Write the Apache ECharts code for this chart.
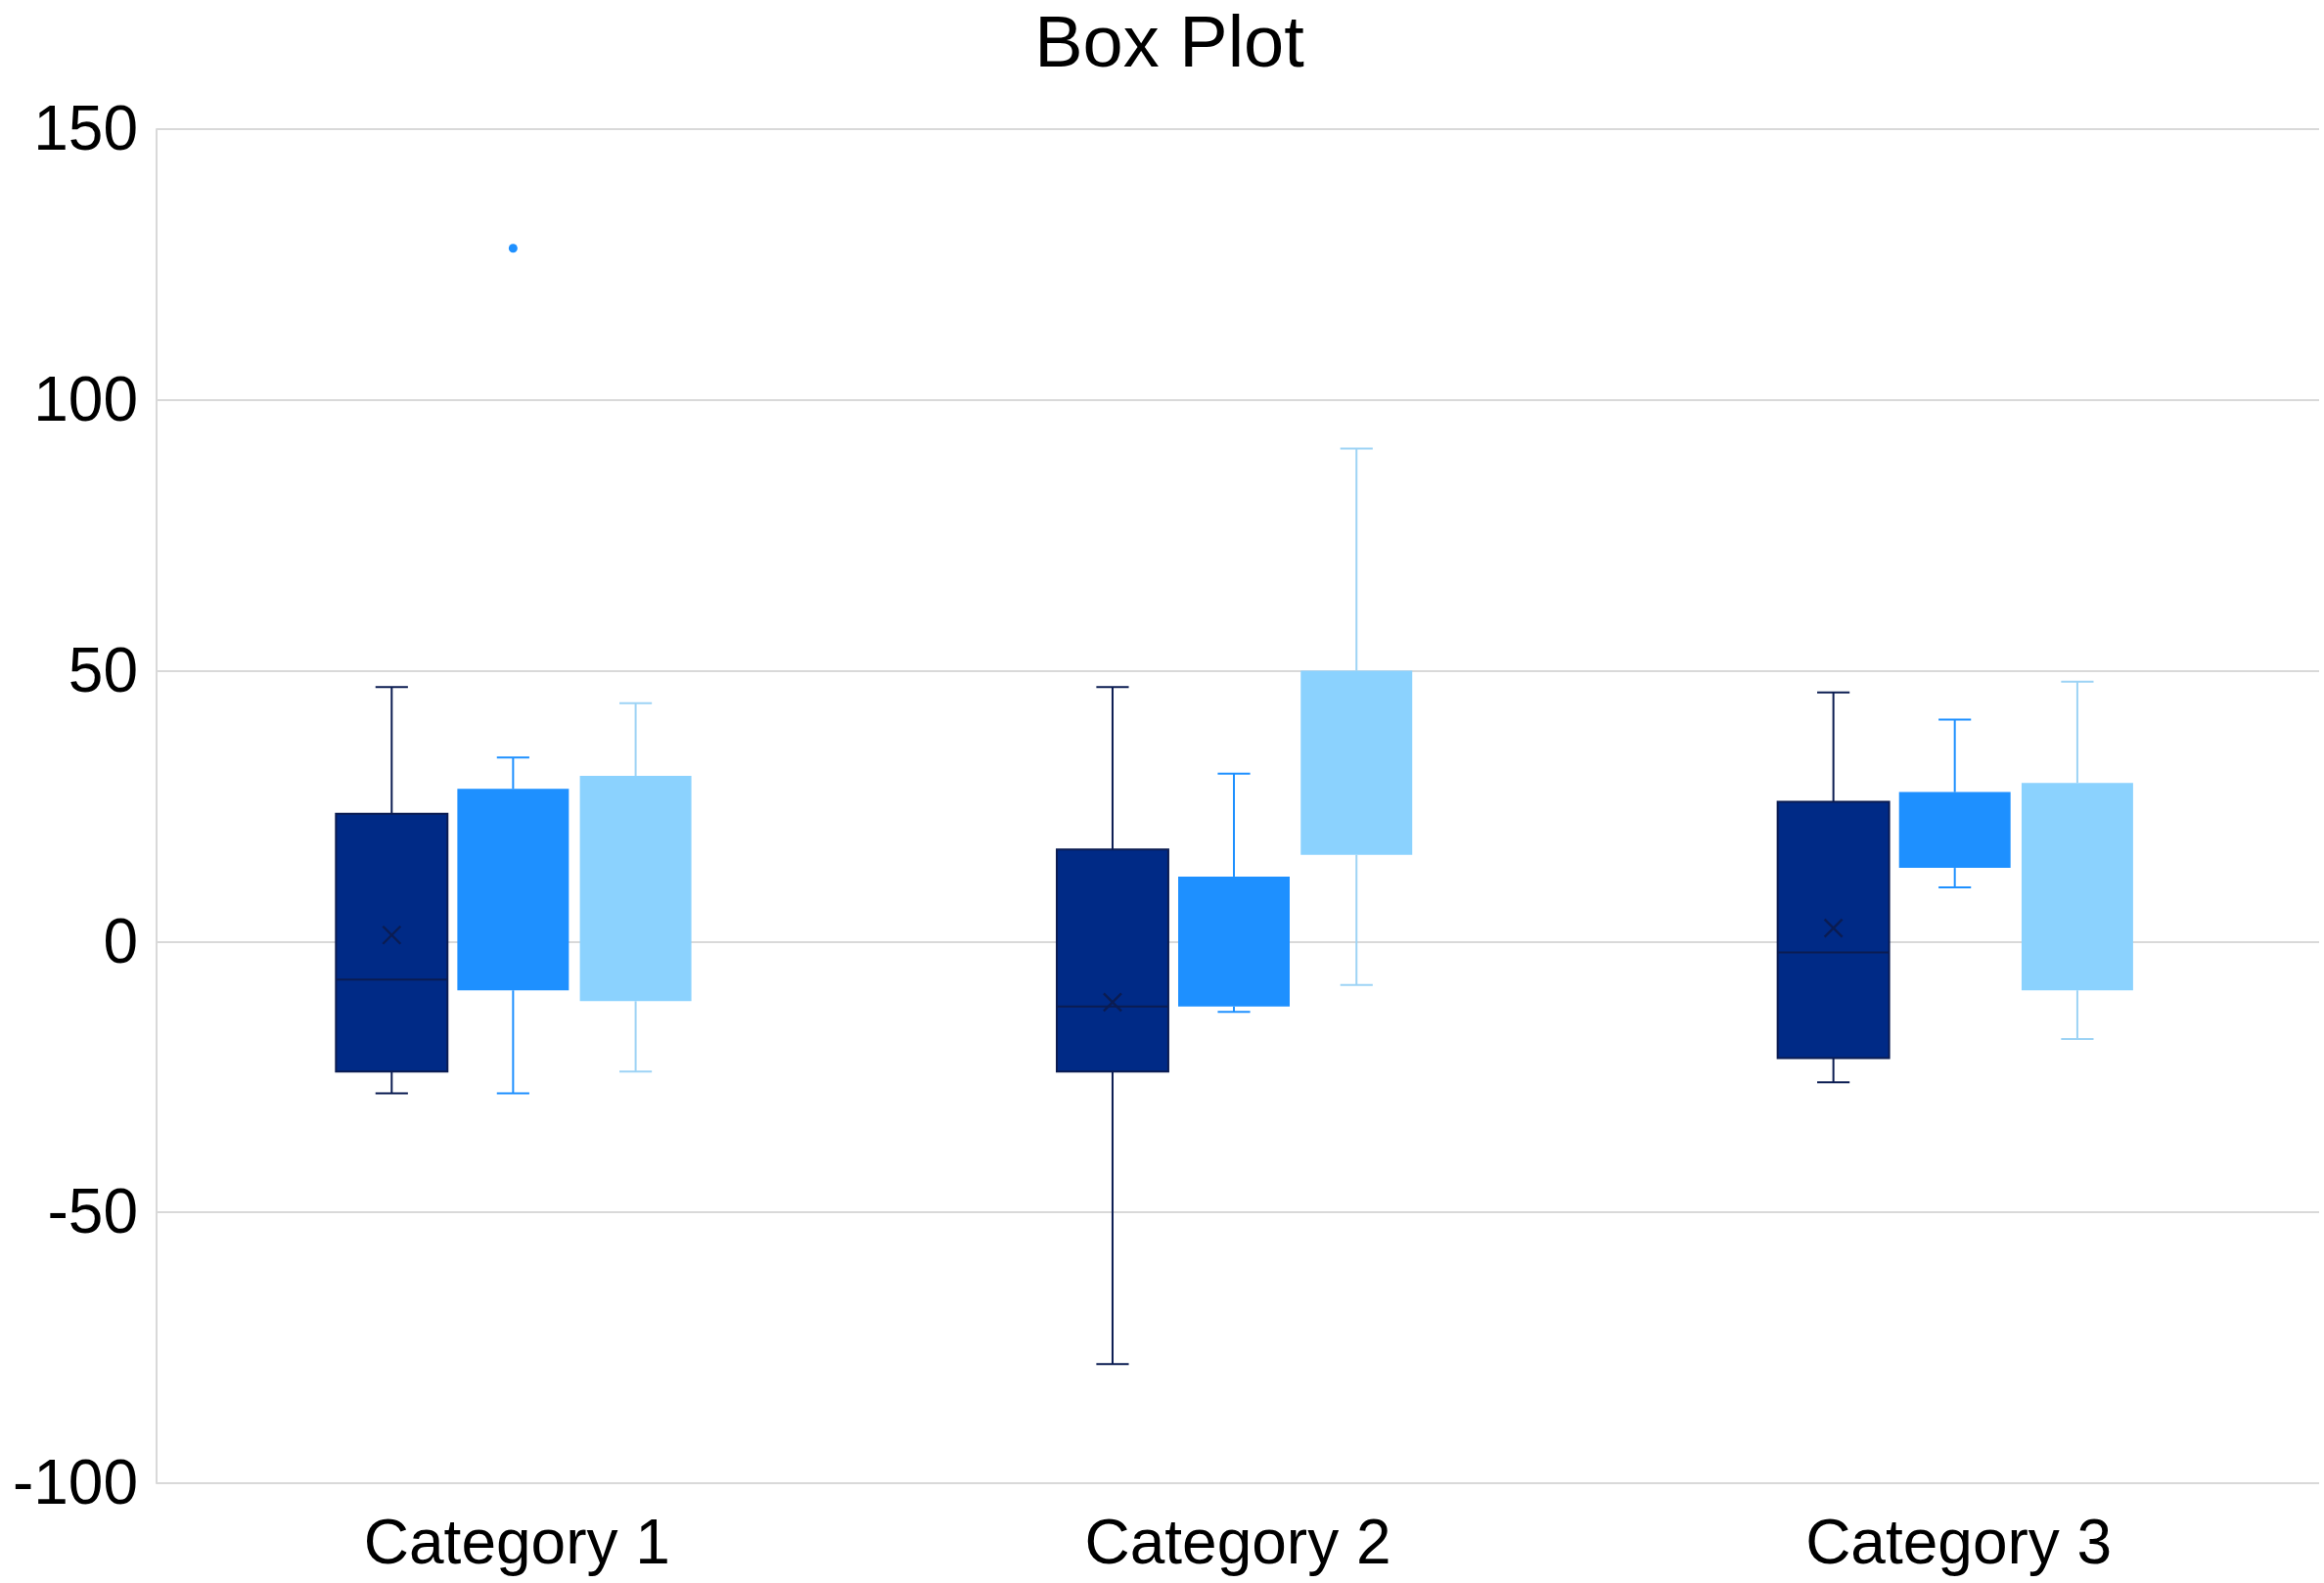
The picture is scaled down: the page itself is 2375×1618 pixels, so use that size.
<!DOCTYPE html>
<html><head><meta charset="utf-8">
<script src="https://cdn.jsdelivr.net/npm/echarts@6/dist/echarts.min.js"></script>
<style>html,body{margin:0;padding:0;background:#fff}#c{width:2375px;height:1618px}</style>
</head><body><div id="c"></div>
<script>
// ---------- data ----------
const categories = ['Category 1', 'Category 2', 'Category 3'];
const seriesNames = ['Series 1', 'Series 2', 'Series 3'];
const yMin = -100, yMax = 150, yInterval = 50;

// [min, Q1, median, Q3, max] per category
const series1Box = [[-28, -24, -7, 23.6, 47], [-78, -24, -12, 17, 47], [-26, -21.5, -2, 25.8, 46]];
const series1Mean = [1.2, -11.2, 2.5];
const series2Box = [[-28, -9, null, 28.2, 34], [-13, -12, null, 12, 31], [10, 13.6, null, 27.6, 41]];
const series2Mean = [null, null, null];
const series3Box = [[-24, -11, null, 30.6, 44], [-8, 16, null, 50, 91], [-18, -9, null, 29.3, 48]];
const series3Mean = [null, null, null];
// outliers: [seriesIndex, categoryIndex, value]
const outliers = [[1, 0, 128]];

// ---------- styles ----------
const FONT = 'Liberation Sans, Arial, Helvetica, sans-serif';
const styles = [
  { fill: '#002A86', border: '#0B1C52', whisker: '#0B1C52', mark: '#0B1C52' },
  { fill: '#1E90FF', border: null, whisker: '#1E90FF', mark: null },
  { fill: '#8BD2FE', border: null, whisker: '#9DD3F5', mark: null }
];
const offsets = [-0.1738, -0.0054, 0.1646];
const boxFrac = 0.1547, capFrac = 0.045;

function toData(box, mean) {
  return box.map((b, i) => [i, b[0], b[1], b[2] == null ? NaN : b[2], b[3], b[4], mean[i] == null ? NaN : mean[i]]);
}
const boxData = [toData(series1Box, series1Mean), toData(series2Box, series2Mean), toData(series3Box, series3Mean)];

function makeRender(k) {
  const st = styles[k];
  return function (params, api) {
    const cat = api.value(0);
    const band = api.size([1, 0])[0];
    const cx = api.coord([cat, 0])[0] + offsets[k] * band;
    const w = boxFrac * band, cw = capFrac * band;
    const Y = v => api.coord([cat, v])[1];
    const lo = Y(api.value(1)), q1 = Y(api.value(2)), med = api.value(3),
          q3 = Y(api.value(4)), hi = Y(api.value(5)), mean = api.value(6);
    const ls = { stroke: st.whisker, lineWidth: 2 };
    const ch = [
      { type: 'line', shape: { x1: cx, y1: hi, x2: cx, y2: q3 }, style: ls },
      { type: 'line', shape: { x1: cx, y1: q1, x2: cx, y2: lo }, style: ls },
      { type: 'line', shape: { x1: cx - cw / 2, y1: hi, x2: cx + cw / 2, y2: hi }, style: ls },
      { type: 'line', shape: { x1: cx - cw / 2, y1: lo, x2: cx + cw / 2, y2: lo }, style: ls },
      { type: 'rect', shape: { x: cx - w / 2, y: q3, width: w, height: q1 - q3 },
        style: st.border ? { fill: st.fill, stroke: st.border, lineWidth: 2 } : { fill: st.fill, stroke: null } }
    ];
    if (st.mark && !isNaN(med)) {
      const my = Y(med);
      ch.push({ type: 'line', shape: { x1: cx - w / 2, y1: my, x2: cx + w / 2, y2: my }, style: { stroke: st.mark, lineWidth: 2 } });
    }
    if (st.mark && !isNaN(mean)) {
      const ey = Y(mean), h = 9;
      ch.push({ type: 'line', shape: { x1: cx - h, y1: ey - h, x2: cx + h, y2: ey + h }, style: { stroke: st.mark, lineWidth: 2.4 } });
      ch.push({ type: 'line', shape: { x1: cx - h, y1: ey + h, x2: cx + h, y2: ey - h }, style: { stroke: st.mark, lineWidth: 2.4 } });
    }
    return { type: 'group', children: ch };
  };
}

function renderOutlier(params, api) {
  const k = api.value(0), cat = api.value(1), v = api.value(2);
  const band = api.size([1, 0])[0];
  const p = api.coord([cat, v]);
  return { type: 'circle', shape: { cx: p[0] + offsets[k] * band, cy: p[1], r: 4.5 }, style: { fill: styles[k].fill } };
}

const series = boxData.map((d, k) => ({
  type: 'custom', name: seriesNames[k], data: d,
  encode: { x: 0, y: [1, 2, 3, 4, 5] },
  renderItem: makeRender(k), silent: true, animation: false
}));
series.push({
  type: 'custom', name: 'Outliers', data: outliers,
  encode: { x: 1, y: 2 }, renderItem: renderOutlier, silent: true, animation: false
});

const chart = echarts.init(document.getElementById('c'), null, { renderer: 'canvas' });
chart.setOption({
  backgroundColor: '#ffffff',
  animation: false,
  title: {
    text: 'Box Plot', left: 1195, top: 11, padding: 0, textAlign: 'center',
    textStyle: { fontSize: 74, fontWeight: 'normal', fontFamily: FONT, color: '#000000' }
  },
  grid: { left: 160, right: 5, top: 132, bottom: 102, containLabel: false, outerBoundsMode: 'none' },
  xAxis: {
    type: 'category', data: categories, boundaryGap: true,
    axisLine: { show: false }, axisTick: { show: false }, splitLine: { show: false },
    axisLabel: { fontSize: 64, fontFamily: FONT, color: '#000000', margin: 32 }
  },
  yAxis: {
    type: 'value', min: yMin, max: yMax, interval: yInterval,
    axisLine: { show: true, lineStyle: { color: '#D9D9D9', width: 2 } },
    axisTick: { show: false },
    splitLine: { show: true, lineStyle: { color: '#D9D9D9', width: 2 } },
    axisLabel: { fontSize: 64, fontFamily: FONT, color: '#000000', margin: 19, verticalAlign: 'top', lineHeight: 7 }
  },
  series: series
});
</script></body></html>
